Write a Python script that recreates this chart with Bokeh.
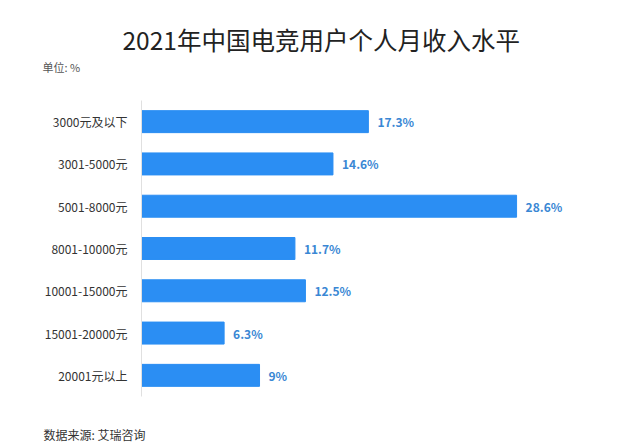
from bokeh.plotting import figure
from bokeh.models import ColumnDataSource, Range1d, FactorRange, Title
from bokeh.core.properties import value
from bokeh.embed import file_html
from bokeh.resources import INLINE

# 数据
categories = ["3000元及以下", "3001-5000元", "5001-8000元", "8001-10000元",
              "10001-15000元", "15001-20000元", "20001元以上"]
shares = [17.3, 14.6, 28.6, 11.7, 12.5, 6.3, 9]
share_labels = ["17.3%", "14.6%", "28.6%", "11.7%", "12.5%", "6.3%", "9%"]

FONT = "Noto Sans CJK SC"

source = ColumnDataSource(dict(cat=categories, val=shares, lab=share_labels))

p = figure(
    y_range=FactorRange(*categories[::-1]),
    x_range=Range1d(0, 35),
    width=640, height=445,
    output_backend="svg", toolbar_location=None, tools="",
    min_border_left=141, min_border_right=40,
    min_border_top=100, min_border_bottom=49,
)
p.outline_line_color = None
p.grid.grid_line_color = None
p.xaxis.visible = False

p.yaxis.axis_line_color = "#e0e0e0"
p.yaxis.major_tick_line_color = None
p.yaxis.minor_tick_line_color = None
p.yaxis.major_label_standoff = 8
p.yaxis.major_label_text_font = FONT
p.yaxis.major_label_text_font_size = "12px"
p.yaxis.major_label_text_color = "#333333"

p.hbar(y="cat", right="val", left=0, height=0.52, color="#2b8ef3", source=source)
p.text(x="val", y="cat", text="lab", x_offset=9, text_baseline="middle",
       text_font=value(FONT), text_font_size="12px", text_font_style="bold",
       text_color="#3a87d4", source=source)

# above 面板由内向外叠放：占位、单位、标题
p.add_layout(Title(text=" ", standoff=23, text_font_size="1px"), "above")
p.add_layout(Title(text="单位: %", align="left", offset=-99, standoff=0,
                   text_font=FONT, text_font_size="11px", text_font_style="normal",
                   text_color="#555555"), "above")
p.add_layout(Title(text="2021年中国电竞用户个人月收入水平", align="left", offset=-19,
                   standoff=0, text_font=FONT, text_font_size="24.5px",
                   text_font_style="normal", text_color="#222222"), "above")

# 数据来源 (先放一个空白占位，把文字推到底部)
p.add_layout(Title(text=" ", standoff=23, text_font_size="1px"), "below")
p.add_layout(Title(text="数据来源: 艾瑞咨询", align="left", offset=-98, standoff=2,
                   text_font=FONT, text_font_size="12px", text_font_style="normal",
                   text_color="#333333"), "below")

open("out.html", "w").write(file_html(p, INLINE))
